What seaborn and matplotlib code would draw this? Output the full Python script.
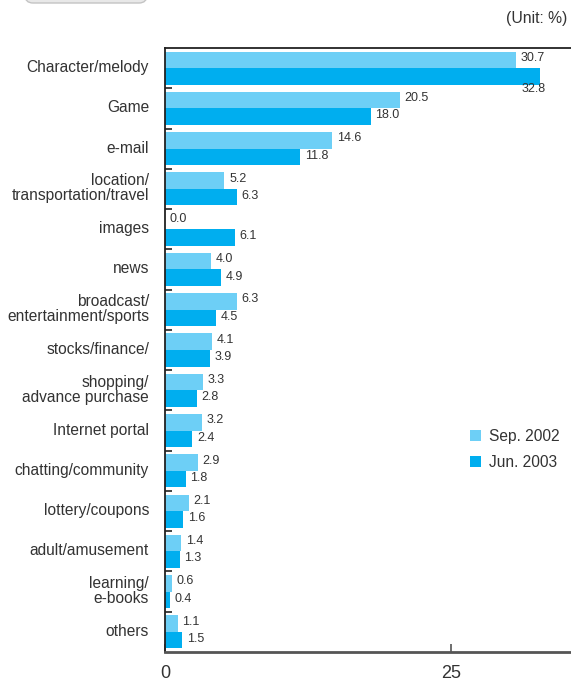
import matplotlib
matplotlib.use("Agg")
import matplotlib.pyplot as plt
import matplotlib.transforms as mtransforms
from matplotlib.patches import FancyBboxPatch
import numpy as np
import pandas as pd
import seaborn as sns

categories = [
    "Character/melody", "Game", "e-mail", "location/\ntransportation/travel",
    "images", "news", "broadcast/\nentertainment/sports", "stocks/finance/",
    "shopping/\nadvance purchase", "Internet portal", "chatting/community",
    "lottery/coupons", "adult/amusement", "learning/\ne-books", "others",
]
sep_2002 = [30.7, 20.5, 14.6, 5.2, 0.0, 4.0, 6.3, 4.1, 3.3, 3.2, 2.9, 2.1, 1.4, 0.6, 1.1]
jun_2003 = [32.8, 18.0, 11.8, 6.3, 6.1, 4.9, 4.5, 3.9, 2.8, 2.4, 1.8, 1.6, 1.3, 0.4, 1.5]
series = ["Sep. 2002", "Jun. 2003"]
x_ticks = [0, 25]

light_blue = "#6DCFF6"
deep_blue = "#00AEEF"
text_col = "#333333"

sns.set_theme(style="white")
plt.rcParams["font.family"] = ["Liberation Sans", "DejaVu Sans"]

df = pd.DataFrame({
    "category": categories * 2,
    "value": sep_2002 + jun_2003,
    "period": [series[0]] * len(categories) + [series[1]] * len(categories),
})

W, H = 571, 680
fig = plt.figure(figsize=(W / 100, H / 100), dpi=100)
ax = fig.add_axes([165 / W, 1 - 652 / H, 1 - 165 / W, (652 - 48) / H])

sns.barplot(data=df, y="category", x="value", hue="period", order=categories,
            hue_order=series, palette=[light_blue, deep_blue], orient="h",
            width=0.82, dodge=True, saturation=1, linewidth=0,
            edgecolor="none", ax=ax, legend=True)

ax.set_xlim(0, (W - 165) / 11.44)
ax.set_ylim(len(categories) - 0.5, -0.5)
ax.set_xlabel("")
ax.set_ylabel("")

# Spines
ax.spines["right"].set_visible(False)
ax.spines["top"].set_color("#222222")
ax.spines["top"].set_linewidth(1.3)
ax.spines["left"].set_color("#222222")
ax.spines["left"].set_linewidth(1.3)
ax.spines["bottom"].set_color("#555555")
ax.spines["bottom"].set_linewidth(2.0)

# Ticks
ax.set_xticks(x_ticks)
ax.set_xticklabels([str(t) for t in x_ticks], fontsize=13, color=text_col)
ax.tick_params(axis="x", direction="in", length=6, width=1.2, color="#555555",
               pad=9, bottom=True)
ax.set_yticks(range(len(categories)))
ax.set_yticklabels(categories, fontsize=11.2, color=text_col,
                   linespacing=1.0, ha="right", multialignment="right")
ax.tick_params(axis="y", which="major", length=0, pad=11.5)
ax.set_yticks(np.arange(0.5, len(categories) - 1, 1.0), minor=True)
ax.tick_params(axis="y", which="minor", direction="in", length=5, width=1.2,
               color="#222222", left=True)
shift = mtransforms.ScaledTranslation(0, 2.0 / 100, fig.dpi_scale_trans)
for lab in ax.get_yticklabels():
    lab.set_transform(lab.get_transform() + shift)

# Value labels
bar_h = 0.41
for i, (a, b) in enumerate(zip(sep_2002, jun_2003)):
    ax.text(a + 0.4, i - bar_h / 2 - 0.05, f"{a:.1f}", fontsize=9,
            color=text_col, ha="left", va="center")
    if b > 32:
        ax.text(b - 1.6, i + bar_h + 0.1, f"{b:.1f}", fontsize=9,
                color=text_col, ha="left", va="center")
    else:
        ax.text(b + 0.4, i + bar_h / 2 - 0.03, f"{b:.1f}", fontsize=9,
                color=text_col, ha="left", va="center")

# Legend
handles, labels = ax.get_legend_handles_labels()
ax.legend(handles, labels, loc="upper left",
          bbox_to_anchor=(462 / W, 1 - 421 / H), bbox_transform=fig.transFigure,
          frameon=False, fontsize=11.2, handlelength=0.75, handleheight=0.75,
          handletextpad=0.5, labelspacing=0.7, borderpad=0, labelcolor=text_col)

fig.text(567 / W, 1 - 18 / H, "(Unit: %)", fontsize=11.3, color=text_col,
         ha="right", va="center")

# Header tab at the top edge
tab = FancyBboxPatch((25, H - 3), 122, 30, boxstyle="round,pad=0,rounding_size=8",
                     transform=None, facecolor="#e8e8e8", edgecolor="#c4c4c4",
                     linewidth=1.0)
fig.patches.append(tab)

fig.savefig("out.png", dpi=100)
